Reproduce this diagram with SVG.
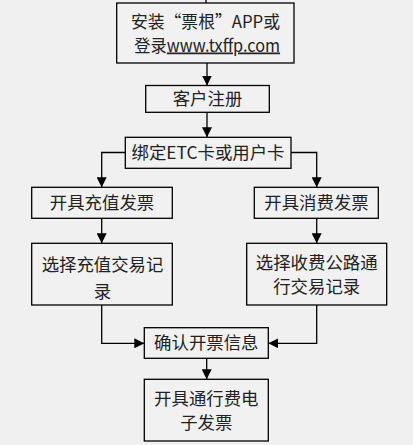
<svg xmlns="http://www.w3.org/2000/svg" width="413" height="445" viewBox="0 0 413 445">
<defs>
<marker id="ah" viewBox="0 0 10 10" refX="10" refY="5" markerWidth="10" markerHeight="10" markerUnits="userSpaceOnUse" orient="auto">
<path d="M0,0 L10,5 L0,10 Z" fill="#000"/>
</marker>
<style>
.box{fill:#f1f1f1;stroke:#000;stroke-width:1.3}
.t{font-family:"Noto Sans CJK SC","Liberation Sans",sans-serif;font-size:17.4px;fill:#222;text-anchor:middle}
.c{fill:none;stroke:#000;stroke-width:1.3;marker-end:url(#ah)}
.s{fill:none;stroke:#000;stroke-width:1.3}
</style>
</defs>
<rect width="413" height="445" fill="#f0f0f0"/>
<g id="connectors">
<line class="s" x1="206" y1="0" x2="206" y2="3"/>
<path class="c" d="M207,63 V85.5"/>
<path class="c" d="M207,112.3 V137.3"/>
<path class="c" d="M125.3,152.5 H101.7 V187.3"/>
<path class="c" d="M291,152.5 H316.7 V187.3"/>
<path class="c" d="M101.7,218.3 V243.3"/>
<path class="c" d="M316.7,218.3 V243.3"/>
<path class="c" d="M101.7,305 V343.3 H144.3"/>
<path class="c" d="M316.7,305 V343.3 H268.3"/>
<path class="c" d="M206.7,358.3 V379.3"/>
</g>
<g id="n1"><rect class="box" x="116.7" y="3" width="177.3" height="60"/>
<text class="t"><tspan x="205.5" y="27.5" textLength="149" lengthAdjust="spacingAndGlyphs">安装“票根”APP或</tspan><tspan x="207.2" y="51.5" textLength="145.7" lengthAdjust="spacingAndGlyphs">登录<tspan text-decoration="underline">www.txffp.com</tspan></tspan></text></g>
<g id="n2"><rect class="box" x="145.7" y="85.5" width="123.6" height="26.8"/>
<text class="t" x="207.5" y="105">客户注册</text></g>
<g id="n3"><rect class="box" x="125.3" y="137.3" width="165.7" height="31"/>
<text class="t" x="208" y="159">绑定ETC卡或用户卡</text></g>
<g id="n4"><rect class="box" x="31.7" y="187.3" width="140.6" height="31"/>
<text class="t" x="102" y="209">开具充值发票</text></g>
<g id="n5"><rect class="box" x="254.3" y="187.3" width="124" height="31"/>
<text class="t" x="316.5" y="209">开具消费发票</text></g>
<g id="n6"><rect class="box" x="31.7" y="243.3" width="140.6" height="61.7"/>
<text class="t"><tspan x="102.5" y="271">选择充值交易记</tspan><tspan x="102.5" y="297.5">录</tspan></text></g>
<g id="n7"><rect class="box" x="246.7" y="243.3" width="140" height="61.7"/>
<text class="t"><tspan x="316.7" y="268.8">选择收费公路通</tspan><tspan x="316.7" y="292.8">行交易记录</tspan></text></g>
<g id="n8"><rect class="box" x="144.3" y="327.7" width="124" height="30.6"/>
<text class="t" x="206.3" y="349">确认开票信息</text></g>
<g id="n9"><rect class="box" x="144.3" y="379.3" width="124" height="61.7"/>
<text class="t"><tspan x="206.3" y="404.5">开具通行费电</tspan><tspan x="206.3" y="428.5">子发票</tspan></text></g>
</svg>
